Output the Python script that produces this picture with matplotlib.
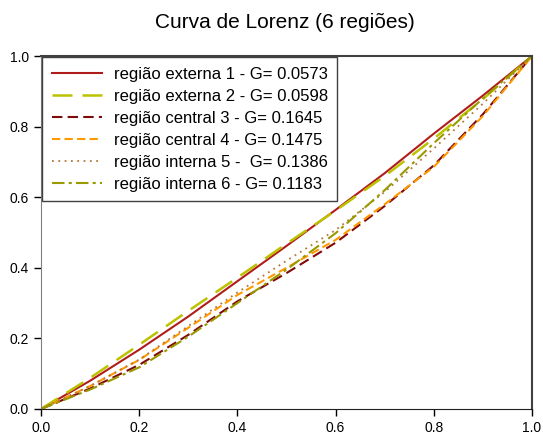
import matplotlib
matplotlib.use("Agg")
import matplotlib.pyplot as plt

plt.rcParams['font.family'] = ['Liberation Sans', 'DejaVu Sans']

x = [0.0, 0.1, 0.2, 0.3, 0.4, 0.5, 0.6, 0.7, 0.8, 0.9, 1.0]
y_ext1 = [0.0, 0.080, 0.168, 0.262, 0.362, 0.462, 0.564, 0.668, 0.780, 0.888, 1.0]
y_ext2 = [0.0, 0.088, 0.182, 0.278, 0.372, 0.468, 0.562, 0.660, 0.766, 0.878, 1.0]
y_cen3 = [0.0, 0.058, 0.125, 0.210, 0.305, 0.385, 0.471, 0.575, 0.690, 0.835, 1.0]
y_cen4 = [0.0, 0.065, 0.139, 0.230, 0.323, 0.400, 0.479, 0.580, 0.686, 0.830, 1.0]
y_int5 = [0.0, 0.065, 0.140, 0.235, 0.330, 0.420, 0.507, 0.615, 0.738, 0.865, 1.0]
y_int6 = [0.0, 0.055, 0.118, 0.205, 0.300, 0.395, 0.498, 0.620, 0.753, 0.880, 1.0]

labels = ["região externa 1 - G= 0.0573",
          "região externa 2 - G= 0.0598",
          "região central 3 - G= 0.1645",
          "região central 4 - G= 0.1475",
          "região interna 5 -  G= 0.1386",
          "região interna 6 - G= 0.1183"]
ticks = [0.0, 0.2, 0.4, 0.6, 0.8, 1.0]
tick_labels = ["0.0", "0.2", "0.4", "0.6", "0.8", "1.0"]

fig = plt.figure(figsize=(5.43, 4.34), dpi=100)
ax = fig.add_axes([41/543, 1-409/434, 491/543, 353/434])

ax.plot(x, y_ext1, color='#b01c1c', lw=1.5, ls='-', label=labels[0])
ax.plot(x, y_ext2, color='#bcc200', lw=1.8, ls=(0, (8, 4)), label=labels[1])
ax.plot(x, y_cen3, color='#7f0a0a', lw=1.5, ls=(0, (5, 2.5)), label=labels[2])
ax.plot(x, y_cen4, color='#ff9900', lw=1.5, ls=(0, (4, 2)), label=labels[3])
ax.plot(x, y_int5, color='#b4783c', lw=1.3, ls=(0, (1, 2.5)), label=labels[4])
ax.plot(x, y_int6, color='#999900', lw=1.5, ls=(0, (6, 2, 1.5, 2)), label=labels[5])

ax.set_xlim(0, 1)
ax.set_ylim(0, 1)
ax.set_xticks(ticks)
ax.set_xticklabels(tick_labels)
ax.set_yticks(ticks)
ax.set_yticklabels(tick_labels)
ax.tick_params(labelsize=10, direction='out', length=5, width=1, colors='#000000')
for s in ['top', 'right']:
    ax.spines[s].set_color('#404040')
    ax.spines[s].set_linewidth(1.5)
ax.spines['left'].set_color('#808080')
ax.spines['bottom'].set_color('#202020')

fig.text(285/543, 1-22/434, "Curva de Lorenz (6 regiões)", ha='center', va='center', fontsize=15)

leg = ax.legend(loc='upper left', bbox_to_anchor=(0.0, 1.0), fontsize=12, frameon=True,
                fancybox=False, edgecolor='#404040', framealpha=1, borderaxespad=0.08,
                handlelength=3.0, labelspacing=0.42, handletextpad=0.75, borderpad=0.55)
leg.get_frame().set_linewidth(1.0)

fig.savefig("out.png", dpi=100)
